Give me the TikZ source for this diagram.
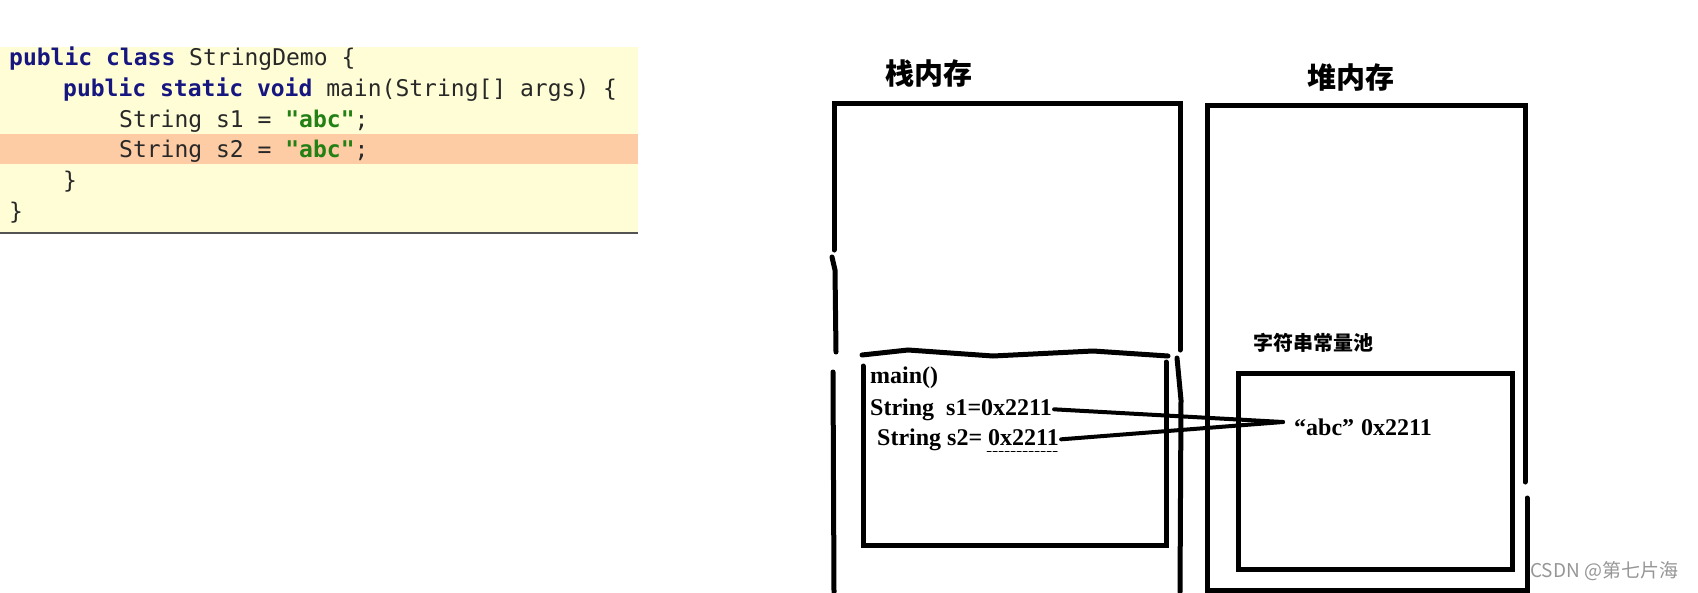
\documentclass[tikz,border=0pt]{standalone}
\usepackage{fontspec}
\setmainfont{Liberation Serif}
\setmonofont{DejaVu Sans Mono}
\newfontfamily\cjkfont{Noto Sans CJK SC}
\usetikzlibrary{positioning, calc}

\definecolor{codebg}{RGB}{255,253,214}
\definecolor{codehl}{RGB}{253,203,164}
\definecolor{codekw}{RGB}{22,22,128}
\definecolor{codestr}{RGB}{34,128,20}
\definecolor{codetxt}{RGB}{40,40,40}
\definecolor{wmgray}{RGB}{150,150,150}

\newcommand\kwd[1]{\textcolor{codekw}{\textbf{#1}}}
\newcommand\strlit[1]{\textcolor{codestr}{\textbf{#1}}}

\begin{document}
\begin{tikzpicture}[x=1pt, y=-1pt, line cap=round]

\tikzset{
  code/.style={anchor=base west, inner sep=0pt, font=\fontsize{23}{23}\selectfont\ttfamily, text=codetxt},
  memlabel/.style={inner sep=0pt, font=\fontsize{29}{29}\selectfont\cjkfont\bfseries},
  var/.style={anchor=base west, inner sep=0pt, font=\fontsize{24}{24}\selectfont\bfseries},
  frame/.style={draw, line width=5pt, line join=miter},
  link/.style={draw, line width=4pt},
}

\useasboundingbox (0,0) rectangle (1698,592);

% code panel
\fill[codebg] (0,47) rectangle (638,232);
\fill[codehl] (0,134) rectangle (638,164);
\draw[codetxt!80, line width=2pt, line cap=butt] (0,233) -- (638,233);

\node[code] (line1) at (9,65) {\kwd{public class} StringDemo \{};
\node[code] (line2) at (63,96) {\kwd{public static void} main(String[] args) \{};
\node[code] (line3) at (119,127) {String s1 = \strlit{"abc"};};
\node[code] (line4) at (119,157) {String s2 = \strlit{"abc"};};
\node[code] (line5) at (63,188) {\}};
\node[code] (line6) at (9,219) {\}};

% memory titles
\node[memlabel] (stacklbl) at (929,73) {栈内存};
\node[memlabel] (heaplbl) at (1351,77) {堆内存};
\node[memlabel, font=\fontsize{20}{20}\selectfont\cjkfont\bfseries] (poollbl) at (1313,343) {字符串常量池};

% stack memory
\draw[frame] (834,250) -- (834,103) -- (1180,103) -- (1180,350);
\draw[frame] (832,257) -- (835,270) -- (836,352);
\draw[frame] (833,372) -- (834,592);
\draw[frame] (1177,358) -- (1181,400) -- (1180,592);

% main() frame
\draw[frame] (862,355) -- (908,350) -- (993,356) -- (1093,351) -- (1168,356);
\draw[frame] (863,366) -- (863,545) -- (1166,545) -- (1166,362);

% heap memory
\draw[frame] (1525,482) -- (1525,105) -- (1207,105) -- (1207,590) -- (1527,590) -- (1527,498);
\draw[frame] (1238,373) rectangle (1512,569);

% variables
\node[var] (mainfn) at (870,383) {main()};
\node[var] (s1) at (870,415) {String\ \ s1=0x2211};
\node[var] (s2) at (877,445) {String s2=\ 0x2211};
\node[var] (abc) at (1294,435) {“abc”\hspace{7pt}0x2211};
\coordinate (meet) at (1283,422);

\draw[link] ($(s1.east)+(2,0)$) -- (meet);
\draw[link] ($(s2.east)+(2,0)$) -- (meet);
\draw[line width=1pt, dash pattern=on 4pt off 2pt] ($(s2.base east)+(-72,6)$) -- ($(s2.base east)+(-2,6)$);

\node[anchor=west, inner sep=0pt, font=\fontsize{19}{19}\selectfont\cjkfont, text=wmgray] (mark) at (1530,571) {CSDN @第七片海};

\end{tikzpicture}
\end{document}
